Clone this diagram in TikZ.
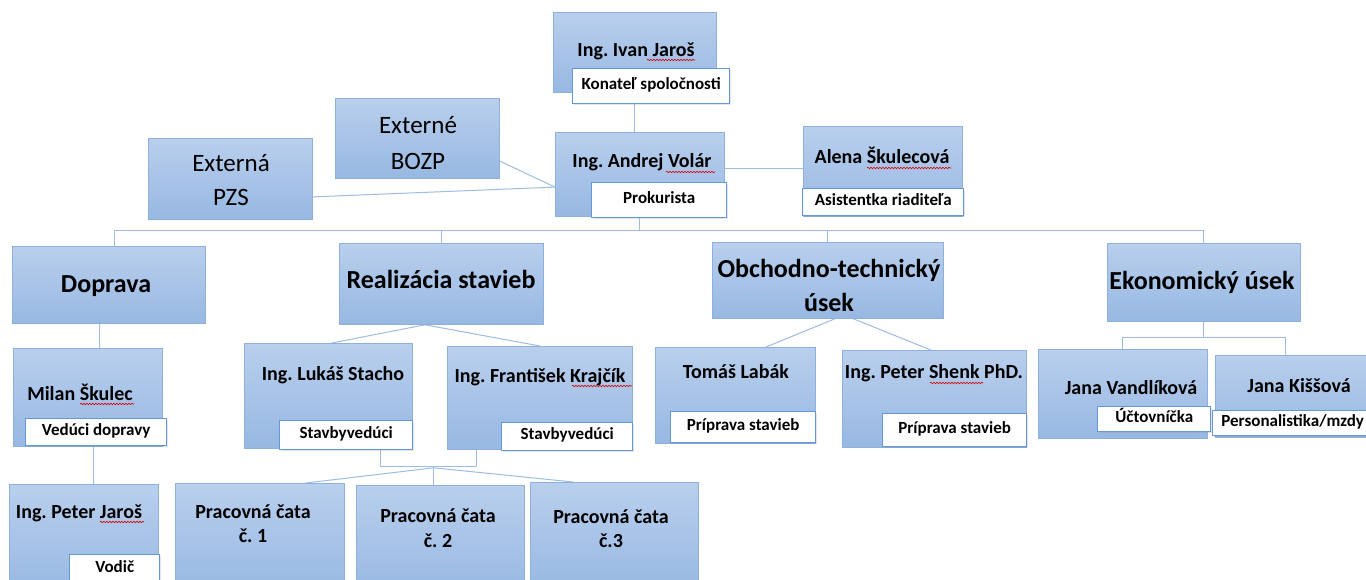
\documentclass[tikz,border=0pt]{standalone}
\usepackage{fontspec}
\setmainfont{Carlito}
\usetikzlibrary{calc,shadows,decorations.pathmorphing}
\pgfdeclarelayer{bg}
\pgfsetlayers{bg,main}
\definecolor{boxtop}{HTML}{B9CFED}
\definecolor{boxbot}{HTML}{97B8E2}
\definecolor{boxline}{HTML}{8DB0DD}
\definecolor{conn}{HTML}{9DBCE2}
\definecolor{labline}{HTML}{6496D8}
\tikzset{
 orgbox/.style={rectangle, anchor=north west, inner sep=0pt, top color=boxtop, bottom color=boxbot, draw=boxline, line width=0.8pt},
 orglabel/.style={rectangle, anchor=north west, inner sep=0pt, fill=white, draw=labline, line width=1.4pt,
   font=\fontsize{17}{20}\selectfont\bfseries, text height=0.63em, text depth=0pt,
   drop shadow={shadow xshift=1.2pt, shadow yshift=-1.2pt, opacity=0.2}},
 nametext/.style={anchor=base, inner sep=0pt, font=\fontsize{20}{24}\selectfont\bfseries},
 headtext/.style={anchor=base, inner sep=0pt, font=\fontsize{26}{30}\selectfont\bfseries},
 exttext/.style={anchor=base, inner sep=0pt, font=\fontsize{25}{30}\selectfont},
 connector/.style={draw=conn, line width=1pt},
 spell/.style={draw=red!85!black, line width=0.6pt, decorate, decoration={snake, amplitude=0.8pt, segment length=3pt}}
}
\newcommand\obox[5]{\node[orgbox, minimum width=#4pt, minimum height=#5pt] (#1) at (#2,#3) {};}
\newcommand\olab[6]{\node[orglabel, minimum width=#4pt, minimum height=#5pt] (#1) at (#2,#3) {#6};}
\newcommand\otext[5]{\node[#4] (#1) at (#2,#3) {#5};}
\frenchspacing
\begin{document}
\frenchspacing
\begin{tikzpicture}[x=1pt,y=-1pt]
\useasboundingbox (0,0) rectangle (1366,580);
\clip (0,0) rectangle (1366,580);
% boxes
\obox{ivan}{553}{12}{163}{80}
\obox{volar}{555}{132}{169}{84}
\obox{alena}{803}{126}{159}{90}
\obox{bozp}{335}{98}{164}{80}
\obox{pzs}{148}{138}{164}{81}
\obox{doprava}{12}{246}{193}{77}
\obox{real}{339}{243}{204}{81}
\obox{obch}{712}{242}{231}{76}
\obox{ekon}{1107}{243}{193}{78}
\obox{milan}{13}{348}{149}{98}
\obox{pjaros}{9}{484}{149}{110}
\obox{stacho}{244}{343}{168}{105}
\obox{krajcik}{447}{346}{185}{103}
\obox{cata1}{175}{483}{169}{110}
\obox{cata2}{356}{485}{168}{110}
\obox{cata3}{530}{482}{168}{110}
\obox{labak}{655}{347}{160}{96}
\obox{shenk}{842}{350}{184}{97}
\obox{vandl}{1038}{349}{169}{89}
\obox{kissova}{1215}{355}{160}{82}
% labels
\olab{konatel}{572}{68}{157}{35}{Konateľ spoločnosti}
\olab{prokur}{591}{182}{135}{35}{Prokurista}
\olab{asist}{802}{188}{161}{27}{Asistentka riaditeľa}
\olab{veduci}{25}{418}{141}{27}{Vedúci dopravy}
\olab{vodic}{69}{554}{90}{30}{Vodič}
\olab{stavb1}{279}{420}{133}{29}{Stavbyvedúci}
\olab{stavb2}{501}{422}{131}{28}{Stavbyvedúci}
\olab{prip1}{670}{411}{145}{31}{Príprava stavieb}
\olab{prip2}{882}{413}{144}{33}{Príprava stavieb}
\olab{uctov}{1097}{406}{113}{25}{Účtovníčka}
\olab{person}{1212}{410}{160}{25}{Personalistika/mzdy}
% texts
\otext{ivanT}{636}{57}{nametext}{Ing. Ivan Jaroš}
\otext{volarT}{642}{168}{nametext}{Ing. Andrej Volár}
\otext{alenaT}{882}{164}{nametext}{Alena Škulecová}
\otext{bozpA}{418}{134}{exttext}{Externé}
\otext{bozpB}{418}{170}{exttext}{BOZP}
\otext{pzsA}{231}{172}{exttext}{Externá}
\otext{pzsB}{231}{206}{exttext}{PZS}
\otext{dopravaT}{106}{293}{headtext}{Doprava}
\otext{realT}{441}{288}{headtext}{Realizácia stavieb}
\otext{obchA}{829}{278}{headtext}{Obchodno-technický}
\otext{obchB}{829}{312}{headtext}{úsek}
\otext{ekonT}{1202}{290}{headtext}{Ekonomický úsek}
\otext{milanT}{80}{400}{nametext}{Milan Škulec}
\otext{pjarosT}{79}{518}{nametext}{Ing. Peter Jaroš}
\otext{stachoT}{333}{380}{nametext}{Ing. Lukáš Stacho}
\otext{krajcikT}{540}{382}{nametext}{Ing. František Krajčík}
\otext{cataA1}{253}{518}{nametext}{Pracovná čata}
\otext{cataB1}{253}{542}{nametext}{č. 1}
\otext{cataA2}{438}{522}{nametext}{Pracovná čata}
\otext{cataB2}{438}{547}{nametext}{č. 2}
\otext{cataA3}{611}{523}{nametext}{Pracovná čata}
\otext{cataB3}{611}{547}{nametext}{č.3}
\otext{labakT}{736}{378}{nametext}{Tomáš Labák}
\otext{shenkT}{934}{378}{nametext}{Ing. Peter Shenk PhD.}
\otext{vandlT}{1131}{394}{nametext}{Jana Vandlíková}
\otext{kissovaT}{1299}{392}{nametext}{Jana Kiššová}
% spell-check underlines
\draw[spell] (647,60) -- (695,60);
\draw[spell] (666,172) -- (715,172);
\draw[spell] (867,168) -- (951,168);
\draw[spell] (80,404) -- (134,404);
\draw[spell] (100,522) -- (144,522);
\draw[spell] (572,386) -- (632,386);
\draw[spell] (930,383) -- (983,383);
% connectors
\begin{pgfonlayer}{bg}
\fill[white] (0,0) rectangle (1366,580);
\draw[connector] (ivan.south) -- (ivan.south |- volar.north);
\coordinate (va) at ($(volar.north east)!0.43!(volar.south east)$);
\draw[connector] (va) -- (va -| alena.west);
\coordinate (vw) at ($(volar.north west)!0.65!(volar.south west)$);
\draw[connector] ($(bozp.north east)!0.78!(bozp.south east)$) -- (vw);
\draw[connector] ($(pzs.north east)!0.72!(pzs.south east)$) -- (vw);
\coordinate (bus) at ($(volar.south)+(0,14)$);
\draw[connector] (volar.south) -- (bus);
\draw[connector] (bus) -| ($(doprava.north west)!0.53!(doprava.north east)$);
\draw[connector] (bus) -| (real.north);
\draw[connector] (bus) -| (obch.north);
\draw[connector] (bus) -| (ekon.north);
\coordinate (dm) at ($(doprava.south west)!0.45!(doprava.south east)$);
\draw[connector] (dm) -- (dm |- milan.north);
\coordinate (mp) at ($(milan.south west)!0.54!(milan.south east)$);
\draw[connector] (mp) -- (mp |- pjaros.north);
\coordinate (rs) at ($(real.south west)!0.42!(real.south east)$);
\draw[connector] (rs) -- ($(stacho.north west)!0.52!(stacho.north east)$);
\draw[connector] (rs) -- (krajcik.north);
\coordinate (sb) at ($(stacho.south west)!0.81!(stacho.south east)$);
\coordinate (kb) at ($(krajcik.south west)!0.157!(krajcik.south east)$);
\draw[connector] (sb) -- ++(0,18) -| (kb);
\coordinate (J) at ($(sb)+(53,19)$);
\draw[connector] (J) -- ($(cata1.north west)!0.77!(cata1.north east)$);
\draw[connector] (J) -- (J |- cata2.north);
\draw[connector] (J) -- ($(cata3.north west)!0.256!(cata3.north east)$);
\draw[connector] ($(obch.south west)!0.53!(obch.south east)$) -- ($(labak.north west)!0.69!(labak.north east)$);
\draw[connector] ($(obch.south west)!0.61!(obch.south east)$) -- ($(shenk.north west)!0.48!(shenk.north east)$);
\draw[connector] (ekon.south) -- ++(0,16) coordinate (eb);
\draw[connector] (eb) -| (vandl.north);
\draw[connector] (eb) -| ($(kissova.north west)!0.44!(kissova.north east)$);
\end{pgfonlayer}
\end{tikzpicture}
\end{document}
